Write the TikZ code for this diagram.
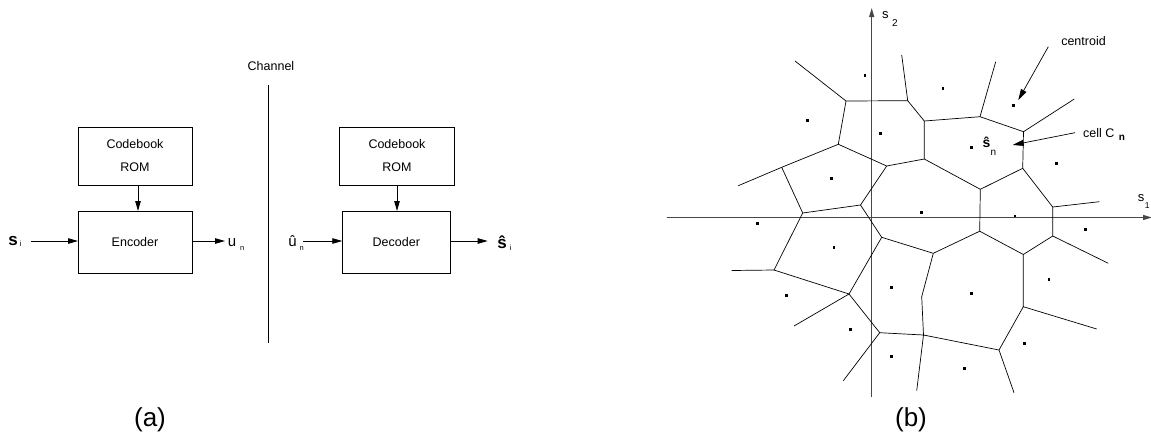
\documentclass[tikz,border=0pt]{standalone}
\usepackage{fontspec}
\setmainfont{Liberation Sans}
\usetikzlibrary{arrows.meta}

\begin{document}
\begin{tikzpicture}[x=1pt,y=-1pt,
  every node/.style={inner sep=0pt, outer sep=0pt},
  txt/.style={font=\fontsize{12.5}{15}\selectfont},
  sub/.style={font=\fontsize{7.5}{8}\selectfont},
  blk/.style={draw, line width=0.8pt, txt},
  arr/.style={line width=0.8pt, -{Triangle[length=10pt,width=5.5pt]}},
  cell/.style={line width=0.7pt},
  axis/.style={line width=1.1pt, draw=black!72},
  dot/.style={fill=black, rectangle, minimum size=2.8pt, inner sep=0pt},
  subcaption/.style={font=\fontsize{26}{28}\selectfont, anchor=base},
]
\useasboundingbox (0,0) rectangle (1151,440);

% ---------------- (a) encoder / channel / decoder ----------------
\node[blk, minimum width=114pt, minimum height=58pt, align=center,
      font=\fontsize{12.5}{23}\selectfont] (cbL) at (135,156) {Codebook\\ROM};
\node[blk, minimum width=114pt, minimum height=62pt] (enc) at (135,242) {Encoder};
\node[blk, minimum width=115pt, minimum height=58pt, align=center,
      font=\fontsize{12.5}{23}\selectfont] (cbR) at (397,156) {Codebook\\ROM};
\node[blk, minimum width=108pt, minimum height=62pt] (dec) at (396.3,242) {Decoder};

\draw[arr] ([xshift=3pt]cbL.south) -- ([xshift=3pt]enc.north);
\draw[arr] (cbR.south) -- (cbR.south |- dec.north);

% encoder input and output
\node[font=\fontsize{17}{17}\selectfont\bfseries, anchor=base] (si) at (13,245.5) {s};
\node[sub, anchor=base] (sii) at (20.5,246) {i};
\coordinate (inL) at (31,241);
\draw[arr] (inL) -- (inL -| enc.west);
\node[font=\fontsize{15}{15}\selectfont, anchor=base] (un) at (232,246) {u};
\node[sub, anchor=base] (unn) at (242.3,250.5) {n};
\coordinate (outL) at (225,241);
\draw[arr] (outL -| enc.east) -- (outL);

% channel
\node[txt] (chlab) at (271,66) {Channel};
\coordinate (chT) at (268,85);
\coordinate (chB) at (268,343);
\draw[line width=0.8pt] (chT) -- (chB);

% decoder input and output
\node[font=\fontsize{15}{15}\selectfont, anchor=base] (uh) at (292.5,246.7) {û};
\node[sub, anchor=base] (uhn) at (301.7,250.7) {n};
\coordinate (inR) at (303.3,241);
\draw[arr] (inR) -- (inR -| dec.west);
\node[font=\fontsize{17}{17}\selectfont\bfseries, anchor=base] (sh) at (502,248) {ŝ};
\node[sub, anchor=base] (shi) at (510.7,250) {i};
\coordinate (outR) at (487.7,241);
\draw[arr] (outR -| dec.east) -- (outR);

\node[subcaption] (capa) at (150,426) {(a)};

% ---------------- (b) Voronoi partition ----------------
% axes
\coordinate (ax2b) at (871.7,397);
\coordinate (ax2t) at (871.7,8);
\coordinate (ax1l) at (666.7,217.5);
\coordinate (ax1r) at (1152,217.5);
\draw[axis, -{Triangle[length=9pt,width=5pt]}] (ax2b) -- (ax2t);
\draw[axis, -{Triangle[length=9pt,width=5pt]}] (ax1l) -- (ax1r);
\node[font=\fontsize{13}{13}\selectfont, anchor=base] (s2) at (885.3,18.3) {s};
\node[font=\fontsize{10}{10}\selectfont, anchor=base] (s2n) at (895,26) {2};
\node[font=\fontsize{13}{13}\selectfont, anchor=base] (s1) at (1141,201.7) {s};
\node[font=\fontsize{8.5}{9}\selectfont, anchor=base] (s1n) at (1147.3,208) {1};

% cell vertices
\coordinate (A) at (846,101);
\coordinate (A1) at (795,61);
\coordinate (B) at (907.7,100.7);
\coordinate (B1) at (901.7,55);
\coordinate (C) at (924.3,121);
\coordinate (D) at (980,116.7);
\coordinate (D1) at (995.7,61.7);
\coordinate (E) at (1023.5,131.7);
\coordinate (E1) at (1074.3,99);
\coordinate (F) at (1022.7,168.3);
\coordinate (G) at (924.3,159);
\coordinate (H) at (980.3,189.3);
\coordinate (I) at (979.7,231.2);
\coordinate (J) at (886.7,166);
\coordinate (K) at (838.3,144.3);
\coordinate (L) at (781.7,167.3);
\coordinate (L1) at (738.3,185.7);
\coordinate (M) at (802.7,213);
\coordinate (N) at (860.5,205);
\coordinate (O) at (881.7,237.3);
\coordinate (P) at (774,270);
\coordinate (P1) at (731.7,270.5);
\coordinate (Q) at (849,294);
\coordinate (Q1) at (794,326);
\coordinate (R) at (879.7,332.7);
\coordinate (R1) at (843.3,380.7);
\coordinate (S) at (923.5,335);
\coordinate (S1) at (916.7,390.7);
\coordinate (T) at (933.3,253.3);
\coordinate (T2) at (921.7,296.7);
\coordinate (U) at (1023.3,254.5);
\coordinate (V) at (1023.3,306.7);
\coordinate (V1) at (1096.7,329);
\coordinate (W) at (999,350);
\coordinate (W1) at (1014,392.7);
\coordinate (X) at (1052.7,236);
\coordinate (X1) at (1108.3,263.3);
\coordinate (Y) at (1052.7,207);
\coordinate (Y1) at (1099.3,201.7);

% cell boundaries
\draw[cell] (A1) -- (A) -- (B) -- (B1);
\draw[cell] (B) -- (C) -- (D) -- (D1);
\draw[cell] (D) -- (E) -- (E1);
\draw[cell] (E) -- (F) -- (H) -- (G) -- (C);
\draw[cell] (H) -- (I) -- (U) -- (V) -- (V1);
\draw[cell] (G) -- (J) -- (K) -- (A);
\draw[cell] (L1) -- (L) -- (K);
\draw[cell] (L) -- (M) -- (N) -- (J);
\draw[cell] (N) -- (O) -- (T) -- (I);
\draw[cell] (T) -- (T2) -- (S) -- (S1);
\draw[cell] (P1) -- (P) -- (M);
\draw[cell] (P) -- (Q) -- (O);
\draw[cell] (Q1) -- (Q) -- (R) -- (R1);
\draw[cell] (R) -- (S) -- (W) -- (W1);
\draw[cell] (V) -- (W);
\draw[cell] (U) -- (X) -- (X1);
\draw[cell] (X) -- (Y) -- (Y1);
\draw[cell] (Y) -- (F);

% centroids
\foreach \p [count=\k] in {(865,75.7),(807.7,120.5),(880.7,133.3),(943,88.3),
  (1013.3,105.3),(971.7,147.5),(1056.7,163.3),(831.3,178.3),(921.7,212.5),
  (1015,216),(1085.5,229.3),(757.7,223.3),(834,247.3),(786.5,295.5),
  (891.7,287.3),(971.7,293.3),(1049,279.3),(850.3,329.3),(891.7,356.2),
  (964.2,368.3),(1024.3,343.3)}
  \node[dot] (c\k) at \p {};

% annotations
\node[font=\fontsize{14}{14}\selectfont\bfseries, anchor=base] (shn) at (986.5,147.5) {ŝ};
\node[font=\fontsize{10}{10}\selectfont, anchor=base] (shnn) at (993.5,155) {n};
\node[txt, anchor=base] (centroid) at (1083.5,45) {centroid};
\coordinate (cenA) at (1048.3,46.7);
\coordinate (cenB) at (1018.3,100);
\draw[line width=0.7pt, -{Triangle[length=11pt,width=6pt]}] (cenA) -- (cenB);
\node[txt, anchor=base] (cell) at (1098.7,137.3) {cell C};
\node[font=\fontsize{10}{10}\selectfont\bfseries, anchor=base] (celln) at (1122,140.7) {n};
\coordinate (cellA) at (1075,132.7);
\coordinate (cellB) at (1012.7,145);
\draw[line width=0.7pt, -{Triangle[length=11pt,width=6pt]}] (cellA) -- (cellB);

\node[subcaption] (capb) at (911,426) {(b)};
\end{tikzpicture}
\end{document}
